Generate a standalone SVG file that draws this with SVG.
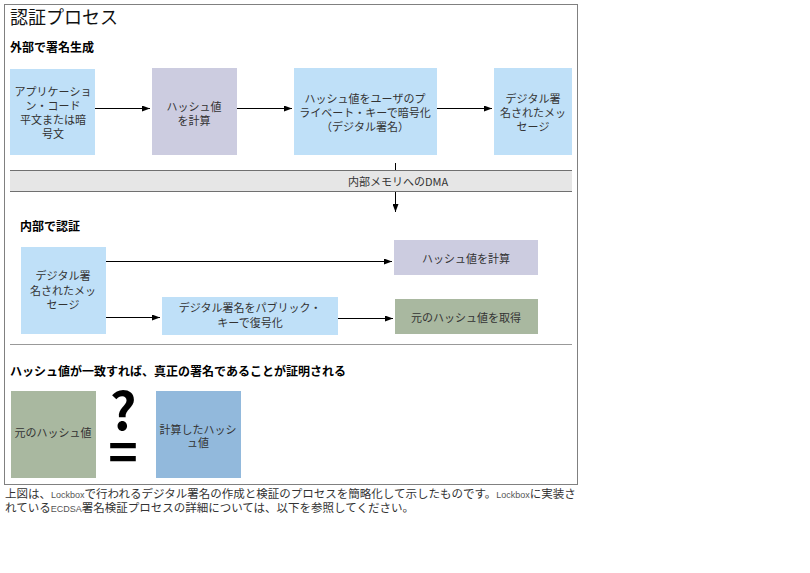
<svg xmlns="http://www.w3.org/2000/svg" width="810" height="573" viewBox="0 0 810 573">
<defs>
<marker id="ah" markerWidth="8" markerHeight="6" refX="8" refY="3" orient="auto" markerUnits="userSpaceOnUse">
<path d="M0,0 L8,3 L0,6 Z" fill="#000"/>
</marker>
<style>
text{font-family:"Noto Sans CJK JP","Liberation Sans",sans-serif;}
.bt{font-size:11px;fill:#333;text-anchor:middle;}
.h1{font-size:18px;fill:#111;}
.h2{font-size:12px;font-weight:bold;fill:#000;}
.lb{fill:#bfe0f8;}
.lv{fill:#cccce0;}
.sg{fill:#a9b8a0;}
.bl{fill:#92b9dc;}
.cn{stroke:#000;stroke-width:1;fill:none;}
.ca{font-size:11.5px;fill:#333;}
.sm{font-family:"Liberation Sans",sans-serif;font-size:9px;fill:#555;}
</style>
</defs>
<rect x="0" y="0" width="810" height="573" fill="#fff"/>
<rect x="4.5" y="4.5" width="573" height="480" fill="#fff" stroke="#808080"/>
<text class="h1" x="10" y="24">認証プロセス</text>
<text class="h2" x="10" y="52">外部で署名生成</text>
<text class="h2" x="20" y="231">内部で認証</text>
<text class="h2" x="10" y="376">ハッシュ値が一致すれば、真正の署名であることが証明される</text>

<g id="dma">
<rect x="10" y="170" width="562" height="22" fill="#e6e6e6"/>
<line x1="10" y1="170.5" x2="572" y2="170.5" stroke="#707070"/>
<line x1="10" y1="191.5" x2="572" y2="191.5" stroke="#707070"/>
<text x="398" y="186" font-size="11px" fill="#333" text-anchor="middle">内部メモリへのDMA</text>
</g>
<line x1="10" y1="344.5" x2="572" y2="344.5" stroke="#999"/>

<g id="connectors">
<line class="cn" x1="95" y1="108.5" x2="150" y2="108.5" marker-end="url(#ah)"/>
<line class="cn" x1="237" y1="108.5" x2="292" y2="108.5" marker-end="url(#ah)"/>
<line class="cn" x1="437" y1="108.5" x2="492" y2="108.5" marker-end="url(#ah)"/>
<line class="cn" x1="395.5" y1="163" x2="395.5" y2="170"/>
<line class="cn" x1="395.5" y1="192" x2="395.5" y2="212" marker-end="url(#ah)"/>
<line class="cn" x1="106" y1="261.5" x2="392" y2="261.5" marker-end="url(#ah)"/>
<line class="cn" x1="106" y1="317.5" x2="160" y2="317.5" marker-end="url(#ah)"/>
<line class="cn" x1="338" y1="318.5" x2="393" y2="318.5" marker-end="url(#ah)"/>
</g>

<g id="n1"><rect class="lb" x="10" y="69" width="85" height="86"/>
<text class="bt"><tspan x="53" y="96">アプリケーショ</tspan><tspan x="53" y="110">ン・コード</tspan><tspan x="53" y="124">平文または暗</tspan><tspan x="53" y="138">号文</tspan></text></g>

<g id="n2"><rect class="lv" x="152" y="68" width="85" height="87"/>
<text class="bt"><tspan x="194" y="111">ハッシュ値</tspan><tspan x="194" y="125">を計算</tspan></text></g>

<g id="n3"><rect class="lb" x="294" y="68" width="143" height="87"/>
<text class="bt"><tspan x="365" y="103">ハッシュ値をユーザのプ</tspan><tspan x="365" y="117">ライベート・キーで暗号化</tspan><tspan x="365" y="131">（デジタル署名）</tspan></text></g>

<g id="n4"><rect class="lb" x="494" y="68" width="78" height="87"/>
<text class="bt"><tspan x="533" y="103">デジタル署</tspan><tspan x="533" y="117">名されたメッ</tspan><tspan x="533" y="131">セージ</tspan></text></g>

<g id="n5"><rect class="lb" x="21" y="247" width="85" height="87"/>
<text class="bt"><tspan x="63" y="280">デジタル署</tspan><tspan x="63" y="295">名されたメッ</tspan><tspan x="63" y="309">セージ</tspan></text></g>

<g id="n6"><rect class="lv" x="394" y="240" width="144" height="35"/>
<text class="bt" x="466" y="263">ハッシュ値を計算</text></g>

<g id="n7"><rect class="lb" x="162" y="297" width="176" height="38"/>
<text class="bt"><tspan x="250" y="312">デジタル署名をパブリック・</tspan><tspan x="250" y="327">キーで復号化</tspan></text></g>

<g id="n8"><rect class="sg" x="395" y="299" width="143" height="35"/>
<text class="bt" x="466" y="322">元のハッシュ値を取得</text></g>

<g id="n9"><rect class="sg" x="11" y="391" width="85" height="87"/>
<text class="bt" x="53" y="437">元のハッシュ値</text></g>

<g id="cmp">
<text font-family="Liberation Sans,sans-serif" font-weight="bold" fill="#000" text-anchor="middle"><tspan x="123" y="430" font-size="52">?</tspan><tspan x="123" y="471" font-size="50">=</tspan></text>
</g>

<g id="n10"><rect class="bl" x="156" y="391" width="85" height="87"/>
<text class="bt"><tspan x="198" y="434">計算したハッシ</tspan><tspan x="198" y="447">ュ値</tspan></text></g>

<text class="ca" x="5" y="498">上図は、<tspan class="sm">Lockbox</tspan>で行われるデジタル署名の作成と検証のプロセスを簡略化して示したものです。<tspan class="sm">Lockbox</tspan>に実装さ</text>
<text class="ca" x="5" y="512">れている<tspan class="sm">ECDSA</tspan>署名検証プロセスの詳細については、以下を参照してください。</text>
</svg>
